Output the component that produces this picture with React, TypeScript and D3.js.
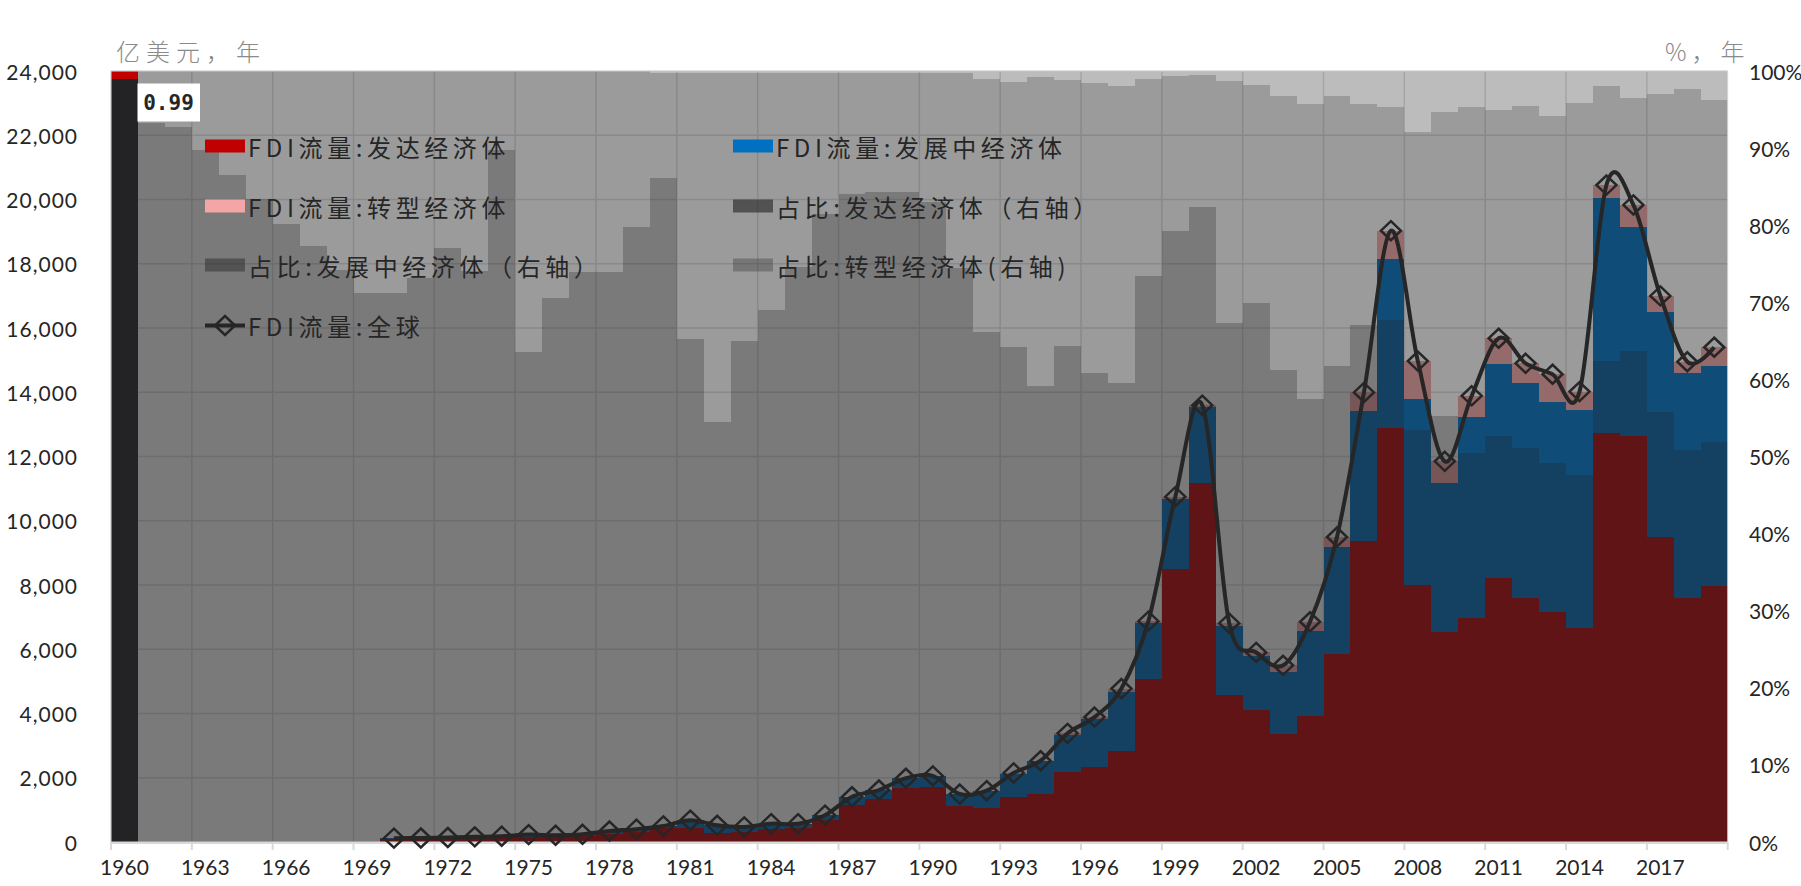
import React from 'react';
import * as d3 from 'd3';

// ---------- data ----------
const years: number[] = [
  1960, 1961, 1962, 1963, 1964, 1965, 1966, 1967, 1968, 1969,
  1970, 1971, 1972, 1973, 1974, 1975, 1976, 1977, 1978, 1979,
  1980, 1981, 1982, 1983, 1984, 1985, 1986, 1987, 1988, 1989,
  1990, 1991, 1992, 1993, 1994, 1995, 1996, 1997, 1998, 1999,
  2000, 2001, 2002, 2003, 2004, 2005, 2006, 2007, 2008, 2009,
  2010, 2011, 2012, 2013, 2014, 2015, 2016, 2017, 2018, 2019,
];

// FDI flows (亿美元), 1970-2019
const fdiYears: number[] = years.slice(10);
const fdiDeveloped: number[] = [
  85, 92, 108, 118, 161, 146, 148, 177, 251, 319,
  430, 444, 283, 306, 393, 425, 681, 1160, 1340, 1670,
  1705, 1115, 1060, 1403, 1490, 2182, 2338, 2836, 5070, 8499,
  11170, 4572, 4104, 3366, 3917, 5850, 9372, 12884, 8000, 6546,
  6982, 8218, 7595, 7159, 6670, 12738, 12645, 9496, 7605, 7969,
];
const fdiDeveloping: number[] = [
  35, 33, 32, 42, 19, 84, 62, 63, 89, 81,
  69, 235, 236, 163, 176, 144, 153, 248, 277, 313,
  348, 374, 520, 727, 1020, 1160, 1490, 1840, 1735, 2171,
  2358, 2150, 1694, 1933, 2660, 3345, 4052, 5266, 5790, 4644,
  6258, 6662, 6685, 6551, 6780, 7302, 6505, 6994, 7005, 6851,
];
const fdiTransition: number[] = [
  0, 0, 0, 0, 0, 0, 0, 0, 0, 0,
  1, 1, 1, 1, 1, 1, 1, 1, 1, 1,
  4, 4, 17, 20, 20, 40, 60, 100, 70, 80,
  70, 90, 104, 200, 280, 300, 571, 880, 1180, 660,
  650, 800, 620, 850, 570, 410, 680, 510, 340, 580,
];
const fdiWorld: number[] = [
  120, 125, 140, 160, 180, 230, 210, 240, 340, 400,
  500, 680, 520, 470, 570, 570, 835, 1409, 1618, 1984,
  2057, 1493, 1597, 2150, 2530, 3382, 3888, 4776, 6875, 10750,
  13598, 6812, 5902, 5499, 6857, 9495, 13995, 19030, 14970, 11850,
  13890, 15680, 14900, 14560, 14020, 20450, 19830, 17000, 14950, 15400,
];

// shares (%), 1960-2019
const shareDeveloped: number[] = [
  99, 93.2, 92.8, 89.7, 86.5, 83.4, 80.2, 77.3, 74.2, 71.2,
  71.2, 73.2, 77.0, 74.0, 89.7, 63.5, 70.6, 73.9, 73.9, 79.8,
  86.1, 65.3, 54.5, 65.0, 69.0, 74.6, 81.5, 84.0, 84.3, 84.3,
  83.0, 74.4, 66.2, 64.2, 59.1, 64.3, 60.8, 59.5, 73.4, 79.2,
  82.4, 67.3, 69.9, 61.2, 57.5, 61.8, 67.1, 67.7, 53.4, 55.3,
  50.4, 52.6, 51.1, 49.2, 47.6, 62.4, 63.7, 55.8, 50.9, 51.9,
];
const shareDeveloping: number[] = [
  1, 6.8, 7.2, 10.3, 13.5, 16.6, 19.8, 22.7, 25.8, 28.8,
  28.8, 26.8, 23.0, 26.0, 10.3, 36.5, 29.4, 26.1, 26.1, 20.2,
  13.6, 34.5, 45.3, 34.8, 30.8, 25.2, 18.3, 15.8, 15.5, 15.5,
  16.8, 25.4, 32.76, 34.4, 40.1, 34.5, 37.7, 38.5, 25.6, 20.1,
  17.1, 31.4, 28.3, 35.6, 38.2, 35.0, 28.6, 27.6, 38.7, 39.4,
  44.9, 42.3, 44.4, 45.0, 48.2, 35.7, 32.8, 41.2, 46.8, 44.3,
];
const shareTransition: number[] = [
  0, 0, 0, 0, 0, 0, 0, 0, 0, 0,
  0, 0, 0, 0, 0, 0, 0, 0, 0, 0,
  0.3, 0.2, 0.2, 0.2, 0.2, 0.2, 0.2, 0.2, 0.2, 0.2,
  0.2, 0.2, 1.04, 1.4, 0.8, 1.2, 1.5, 2.0, 1.0, 0.7,
  0.5, 1.3, 1.8, 3.2, 4.3, 3.2, 4.3, 4.7, 7.9, 5.3,
  4.7, 5.1, 4.5, 5.8, 4.2, 1.9, 3.5, 3.0, 2.3, 3.8,
];

const leftTicks: number[] = [0, 2000, 4000, 6000, 8000, 10000, 12000, 14000, 16000, 18000, 20000, 22000, 24000];
const rightTicks: number[] = [0, 10, 20, 30, 40, 50, 60, 70, 80, 90, 100];
const xTickYears: number[] = [1960, 1963, 1966, 1969, 1972, 1975, 1978, 1981, 1984, 1987, 1990, 1993, 1996, 1999, 2002, 2005, 2008, 2011, 2014, 2017];

const highlightLabel = '0.99';

// ---------- styles ----------
const fdiColors: Record<string, string> = { dev: '#c00000', dvg: '#0070c0', trn: '#f4a6a6' };
const shareColors: Record<string, string> = {
  sdev: 'rgba(33,33,35,0.60)',
  sdvg: 'rgba(33,33,33,0.45)',
  strn: 'rgba(33,33,33,0.30)',
};
const numFont = 'Lato, "Liberation Sans", sans-serif';
const cjkFont = '"Noto Sans CJK SC", "Noto Sans", sans-serif';

export default function App() {
  const W = 1801, H = 886;
  const L = 111, R = 1727.7, T = 71, B = 842;

  const x = d3.scaleBand<number>().domain(years).range([L, R]).padding(0);
  const bw = x.bandwidth();
  const y = d3.scaleLinear().domain([0, 24000]).range([B, T]);
  const yr = d3.scaleLinear().domain([0, 100]).range([B, T]);

  const fdiRows = fdiYears.map((yr0, i) => ({ year: yr0, dev: fdiDeveloped[i], dvg: fdiDeveloping[i], trn: fdiTransition[i] }));
  const fdiStack = d3.stack<any>().keys(['dev', 'dvg', 'trn'])(fdiRows);

  const shareRows = years.map((yr0, i) => ({ year: yr0, sdev: shareDeveloped[i], sdvg: shareDeveloping[i], strn: shareTransition[i] }));
  const shareStack = d3.stack<any>().keys(['sdev', 'sdvg', 'strn'])(shareRows);

  const cx = (yv: number) => (x(yv) as number) + bw / 2;
  const line = d3.line<number>()
    .x((_, i) => cx(fdiYears[i]))
    .y((d) => y(d))
    .curve(d3.curveCardinal.tension(0));

  const diamond = 'M0,-9.5 L10,0 L0,9.5 L-10,0 Z';

  const legendItems = [
    { label: 'FDI流量:发达经济体', color: fdiColors.dev, col: 0, row: 0 },
    { label: 'FDI流量:发展中经济体', color: fdiColors.dvg, col: 1, row: 0 },
    { label: 'FDI流量:转型经济体', color: fdiColors.trn, col: 0, row: 1 },
    { label: ' 占比:发达经济体（右轴）', color: shareColors.sdev, col: 1, row: 1 },
    { label: ' 占比:发展中经济体（右轴）', color: shareColors.sdvg, col: 0, row: 2 },
    { label: ' 占比:转型经济体(右轴)', color: shareColors.strn, col: 1, row: 2 },
  ];
  const colX = [205, 733];
  const rowY = [146, 206, 265, 325.5];

  const gridColor = '#dedede';
  const legendFontSize = 24;
  const legendSpacing = 4.6;

  return (
    <svg width={W} height={H} style={{ position: 'absolute', left: 0, top: 0 }}>
      <rect x={0} y={0} width={W} height={H} fill="#ffffff" />
      {/* gridlines */}
      {leftTicks.map((v) => (
        <line key={'hg' + v} x1={L} x2={R} y1={y(v)} y2={y(v)} stroke={gridColor} strokeWidth={1.5} />
      ))}
      {xTickYears.map((yv) => (
        <line key={'vg' + yv} x1={x(yv) as number} x2={x(yv) as number} y1={T} y2={B} stroke={gridColor} strokeWidth={1.5} />
      ))}
      {/* FDI stacked bars */}
      <g shapeRendering="crispEdges">
        {fdiStack.map((layer) => (
          <g key={layer.key} fill={fdiColors[layer.key]}>
            {layer.map((d, i) => (
              <rect key={i} x={x(fdiYears[i]) as number} width={bw} y={y(d[1])} height={Math.max(0, y(d[0]) - y(d[1]))} />
            ))}
          </g>
        ))}
      </g>
      {/* share overlay bars */}
      <g shapeRendering="crispEdges">
        {shareStack.map((layer) => (
          <g key={layer.key}>
            {layer.map((d, i) => {
              let fill = shareColors[layer.key];
              if (years[i] === 1960) fill = layer.key === 'sdev' ? '#232325' : layer.key === 'sdvg' ? '#c00000' : 'none';
              return (
                <rect key={i} x={x(years[i]) as number} width={bw} y={yr(d[1])} height={Math.max(0, yr(d[0]) - yr(d[1]))} fill={fill} />
              );
            })}
          </g>
        ))}
      </g>
      {/* plot border & axis */}
      <rect x={L} y={T} width={R - L} height={B - T} fill="none" stroke="#d9d9d9" strokeWidth={1} />
      <line x1={L} x2={R} y1={B + 1} y2={B + 1} stroke="#d9d9d9" strokeWidth={2} />
      {xTickYears.map((yv) => (
        <line key={'tk' + yv} x1={x(yv) as number} x2={x(yv) as number} y1={B} y2={B + 8} stroke="#d9d9d9" strokeWidth={2} />
      ))}
      <line x1={R} x2={R} y1={B} y2={B + 8} stroke="#d9d9d9" strokeWidth={2} />

      {/* global line */}
      <path d={line(fdiWorld) || ''} fill="none" stroke="#262626" strokeWidth={4} strokeLinejoin="round" />
      {fdiWorld.map((v, i) => (
        <path key={'dm' + i} d={diamond} transform={`translate(${cx(fdiYears[i])},${y(v)})`} fill="none" stroke="#262626" strokeWidth={2.5} />
      ))}

      {/* highlight label */}
      <rect x={137.5} y={83.5} width={62.5} height={38} fill="#ffffff" />
      <text x={168.5} y={103} textAnchor="middle" dominantBaseline="central" fontFamily='"DejaVu Sans Mono", monospace' fontWeight="bold" fontSize={21} fill="#262626">
        {highlightLabel}
      </text>

      {/* legend */}
      {legendItems.map((it) => (
        <g key={it.label}>
          <rect x={colX[it.col]} y={rowY[it.row] - 6.5} width={40} height={13} fill={it.color} />
          <text x={colX[it.col] + 43} y={rowY[it.row]} dominantBaseline="central" fontFamily={cjkFont} fontSize={legendFontSize} letterSpacing={legendSpacing} fill="#262626">
            {it.label}
          </text>
        </g>
      ))}
      <g>
        <line x1={colX[0]} x2={colX[0] + 40} y1={rowY[3]} y2={rowY[3]} stroke="#262626" strokeWidth={4} />
        <path d={diamond} transform={`translate(${colX[0] + 20},${rowY[3]})`} fill="none" stroke="#262626" strokeWidth={2.5} />
        <text x={colX[0] + 43} y={rowY[3]} dominantBaseline="central" fontFamily={cjkFont} fontSize={legendFontSize} letterSpacing={legendSpacing} fill="#262626">
          FDI流量:全球
        </text>
      </g>

      {/* axes labels */}
      {leftTicks.map((v) => (
        <text key={'lt' + v} x={78} y={y(v)} textAnchor="end" dominantBaseline="central" fontFamily={numFont} fontSize={21} letterSpacing={1} fill="#262626">
          {d3.format(',')(v)}
        </text>
      ))}
      {rightTicks.map((v) => (
        <text key={'rt' + v} x={1749} y={yr(v)} dominantBaseline="central" fontFamily={numFont} fontSize={21} fill="#262626">
          {v + '%'}
        </text>
      ))}
      {xTickYears.map((yv) => (
        <text key={'xt' + yv} x={cx(yv)} y={866} textAnchor="middle" dominantBaseline="central" fontFamily={numFont} fontSize={21} fill="#262626">
          {yv}
        </text>
      ))}
      <text x={116} y={50} dominantBaseline="central" fontFamily={cjkFont} fontWeight={300} fontSize={24} letterSpacing={6} fill="#8a8a8a">
        亿美元，年
      </text>
      <text x={1665} y={50} dominantBaseline="central" fontFamily={cjkFont} fontWeight={300} fontSize={24} letterSpacing={5} fill="#8a8a8a">
        %，年
      </text>
    </svg>
  );
}
